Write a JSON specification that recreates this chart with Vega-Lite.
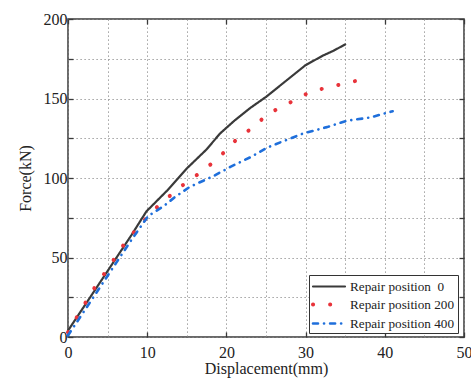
{
  "$schema": "https://vega.github.io/schema/vega-lite/v6.json",
  "width": 396,
  "height": 318,
  "autosize": {"type": "none"},
  "padding": {"left": 68, "top": 19, "right": 7, "bottom": 41},
  "background": "white",
  "config": {
    "view": {"stroke": "#3a3a3a", "strokeWidth": 1.5},
    "font": "Liberation Serif, Times New Roman, serif",
    "axis": {
      "labelFont": "Liberation Serif, Times New Roman, serif",
      "titleFont": "Liberation Serif, Times New Roman, serif",
      "labelFontSize": 16,
      "titleFontSize": 16,
      "titleFontWeight": "normal",
      "labelColor": "#222",
      "titleColor": "#222",
      "domain": false,
      "tickColor": "#3a3a3a",
      "tickWidth": 1.3,
      "gridColor": "#888",
      "gridDash": [1.2, 2.8],
      "gridWidth": 1
    }
  },
  "data": {
    "values": [
      {"series": "Repair position\u00a0 0", "d": 0, "f": 4},
      {"series": "Repair position\u00a0 0", "d": 2, "f": 19},
      {"series": "Repair position\u00a0 0", "d": 4, "f": 34},
      {"series": "Repair position\u00a0 0", "d": 6, "f": 49},
      {"series": "Repair position\u00a0 0", "d": 8, "f": 64},
      {"series": "Repair position\u00a0 0", "d": 9.9, "f": 79},
      {"series": "Repair position\u00a0 0", "d": 12.5, "f": 92},
      {"series": "Repair position\u00a0 0", "d": 15, "f": 106},
      {"series": "Repair position\u00a0 0", "d": 17.5, "f": 118},
      {"series": "Repair position\u00a0 0", "d": 19.2, "f": 128},
      {"series": "Repair position\u00a0 0", "d": 21, "f": 136},
      {"series": "Repair position\u00a0 0", "d": 23, "f": 144},
      {"series": "Repair position\u00a0 0", "d": 25, "f": 151},
      {"series": "Repair position\u00a0 0", "d": 27.5, "f": 161},
      {"series": "Repair position\u00a0 0", "d": 30, "f": 171},
      {"series": "Repair position\u00a0 0", "d": 32.2, "f": 177},
      {"series": "Repair position\u00a0 0", "d": 33.5, "f": 180},
      {"series": "Repair position\u00a0 0", "d": 35, "f": 184},
      {"series": "Repair position 200", "d": 0, "f": 3},
      {"series": "Repair position 200", "d": 1.3, "f": 14},
      {"series": "Repair position 200", "d": 2.5, "f": 24},
      {"series": "Repair position 200", "d": 3.6, "f": 33},
      {"series": "Repair position 200", "d": 4.9, "f": 42},
      {"series": "Repair position 200", "d": 6.1, "f": 51},
      {"series": "Repair position 200", "d": 7.3, "f": 60},
      {"series": "Repair position 200", "d": 8.7, "f": 68},
      {"series": "Repair position 200", "d": 10.1, "f": 76},
      {"series": "Repair position 200", "d": 11.7, "f": 84},
      {"series": "Repair position 200", "d": 13.4, "f": 91},
      {"series": "Repair position 200", "d": 15.1, "f": 98},
      {"series": "Repair position 200", "d": 16.9, "f": 104},
      {"series": "Repair position 200", "d": 18.6, "f": 111},
      {"series": "Repair position 200", "d": 20.1, "f": 118},
      {"series": "Repair position 200", "d": 21.6, "f": 126},
      {"series": "Repair position 200", "d": 23.5, "f": 132},
      {"series": "Repair position 200", "d": 25.1, "f": 140},
      {"series": "Repair position 200", "d": 27.1, "f": 145},
      {"series": "Repair position 200", "d": 29, "f": 150},
      {"series": "Repair position 200", "d": 30.9, "f": 155},
      {"series": "Repair position 200", "d": 33.1, "f": 157},
      {"series": "Repair position 200", "d": 35.2, "f": 160},
      {"series": "Repair position 200", "d": 37.4, "f": 162},
      {"series": "Repair position 400", "d": 0, "f": 1},
      {"series": "Repair position 400", "d": 2, "f": 16},
      {"series": "Repair position 400", "d": 4, "f": 31},
      {"series": "Repair position 400", "d": 6, "f": 46},
      {"series": "Repair position 400", "d": 8, "f": 61},
      {"series": "Repair position 400", "d": 10.1, "f": 76},
      {"series": "Repair position 400", "d": 12, "f": 82},
      {"series": "Repair position 400", "d": 13.5, "f": 88},
      {"series": "Repair position 400", "d": 15.4, "f": 94.5},
      {"series": "Repair position 400", "d": 18.3, "f": 101},
      {"series": "Repair position 400", "d": 20.5, "f": 107},
      {"series": "Repair position 400", "d": 23, "f": 113},
      {"series": "Repair position 400", "d": 25.1, "f": 119},
      {"series": "Repair position 400", "d": 27.1, "f": 123},
      {"series": "Repair position 400", "d": 29.7, "f": 128},
      {"series": "Repair position 400", "d": 32.7, "f": 132},
      {"series": "Repair position 400", "d": 35.2, "f": 136},
      {"series": "Repair position 400", "d": 38.1, "f": 138},
      {"series": "Repair position 400", "d": 41, "f": 142}
    ]
  },
  "resolve": {"axis": {"x": "independent", "y": "independent"}},
  "layer": [
    {
      "mark": {"type": "line", "strokeCap": "round", "strokeJoin": "round"},
      "encoding": {
        "x": {
          "field": "d", "type": "quantitative",
          "scale": {"domain": [0, 50], "nice": false},
          "axis": {
            "title": "Displacement(mm)",
            "values": [0, 5, 10, 15, 20, 25, 30, 35, 40, 45, 50],
            "labelExpr": "datum.value % 10 == 0 ? datum.label : ''",
            "grid": true,
            "tickSize": -5,
            "tickOpacity": {"condition": {"test": "datum.value % 10 == 0", "value": 1}, "value": 0},
            "labelPadding": 12,
            "titlePadding": 0,
            "labelFlush": false
          }
        },
        "y": {
          "field": "f", "type": "quantitative",
          "scale": {"domain": [0, 200], "nice": false},
          "axis": {
            "title": "Force(kN)",
            "values": [0, 25, 50, 75, 100, 125, 150, 175, 200],
            "labelExpr": "datum.value % 50 == 0 ? datum.label : ''",
            "grid": true,
            "tickSize": -5,
            "labelPadding": 6,
            "titlePadding": 10
          }
        },
        "color": {
          "field": "series", "type": "nominal",
          "scale": {
            "domain": ["Repair position\u00a0 0", "Repair position 200", "Repair position 400"],
            "range": ["#3a3a3a", "#e8333a", "#1f6fdb"]
          },
          "legend": {
            "title": null,
            "orient": "none",
            "legendX": 241,
            "legendY": 256,
            "strokeColor": "#333",
            "fillColor": "white",
            "padding": 3,
            "symbolType": "M-1.143,0H3.43",
            "symbolSize": 196,
            "symbolStrokeWidth": 2.6,
            "labelFont": "Liberation Serif, Times New Roman, serif",
            "labelFontSize": 13.2,
            "labelColor": "#222",
            "labelOffset": 20,
            "rowPadding": 2.5,
            "encode": {"symbols": {"update": {"strokeCap": {"value": "round"}}}}
          }
        },
        "strokeDash": {
          "field": "series", "type": "nominal",
          "scale": {
            "domain": ["Repair position\u00a0 0", "Repair position 200", "Repair position 400"],
            "range": [[1, 0], [0.1, 17], [5, 6, 0.1, 6]]
          },
          "legend": {"title": null}
        },
        "strokeWidth": {
          "field": "series", "type": "nominal",
          "scale": {
            "type": "ordinal",
            "domain": ["Repair position\u00a0 0", "Repair position 200", "Repair position 400"],
            "range": [2.2, 4, 2.6]
          },
          "legend": null
        }
      }
    },
    {
      "mark": {"type": "line", "opacity": 0},
      "encoding": {
        "x": {
          "field": "d", "type": "quantitative",
          "axis": {
            "orient": "top", "title": null, "labels": false,
            "values": [0, 10, 20, 30, 40, 50], "tickSize": -5, "grid": false
          }
        },
        "y": {
          "field": "f", "type": "quantitative",
          "axis": {
            "orient": "right", "title": null, "labels": false,
            "values": [0, 25, 50, 75, 100, 125, 150, 175, 200], "tickSize": -5, "grid": false
          }
        },
        "detail": {"field": "series", "type": "nominal"}
      }
    }
  ]
}
